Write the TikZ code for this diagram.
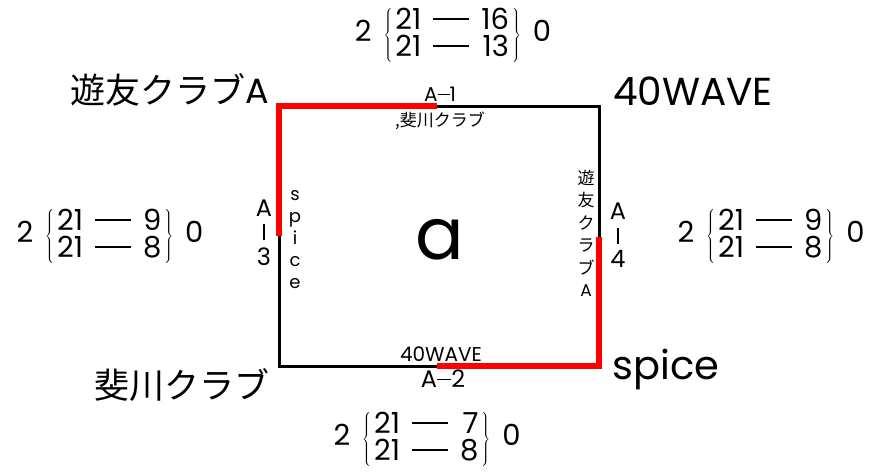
\documentclass[tikz,border=0pt]{standalone}
\usepackage{fontspec}
\setmainfont{Noto Sans CJK JP}
\newfontfamily\latinf{Poppins}
\tikzset{
  lbl/.style={inner sep=0pt, font=\fontsize{#1}{#1}\selectfont},
  llbl/.style={inner sep=0pt, font=\latinf\fontsize{#1}{#1}\selectfont},
  blackline/.style={line width=3pt, black},
  redline/.style={line width=6pt, red},
}
\newcommand{\dashbar}{\rule[9pt]{36pt}{2.4pt}}
\newcommand{\scorebox}[6]{\latinf\fontsize{29}{23}\selectfont #1\hspace{12pt}$\left\{\vcenter{\hbox{\latinf\fontsize{29}{23}\selectfont\renewcommand{\arraystretch}{0.85}\begin{tabular}{@{\hspace{3pt}}l@{\hspace{12pt}}c@{\hspace{12pt}}r@{\hspace{3pt}}}#2&\dashbar&#3\\#4&\dashbar&#5\end{tabular}}}\right\}$\hspace{12pt}#6}
\newcommand{\vstack}[1]{\begin{tabular}{@{}c@{}}#1\end{tabular}}
\begin{document}
\begin{tikzpicture}[x=1pt,y=-1pt]
\useasboundingbox (0,0) rectangle (879,472);
% square corners
\coordinate (tl) at (279,106);
\coordinate (tr) at (599,106);
\coordinate (br) at (599,366);
\coordinate (bl) at (279,366);
\coordinate (tm) at (437,106);
\coordinate (bm) at (437,366);
\coordinate (lm) at (279,236);
\coordinate (rm) at (599,237);
\draw[blackline] (tl) -- (tr) -- (br) -- (bl) -- cycle;
\draw[redline] (lm) -- (tl) -- (tm);
\draw[redline] (rm) -- (br) -- (bm);
% team names
\node[lbl=35] (n1) at (170,90) {遊友クラブ{\latinf A}};
\node[llbl=39] (n2) at (693,91) {40WAVE};
\node[lbl=35] (n3) at (182,385) {斐川クラブ};
\node[llbl=40] (n4) at (666,369) {spice};
\node[llbl=72] (ctr) at (440,240) {a};
% scores
\node[inner sep=0pt] (s1) at (453,35) {\scorebox{2}{21}{16}{21}{13}{0}};
\node[inner sep=0pt] (s2) at (110,236) {\scorebox{2}{21}{9}{21}{8}{0}};
\node[inner sep=0pt] (s3) at (771,236) {\scorebox{2}{21}{9}{21}{8}{0}};
\node[inner sep=0pt] (s4) at (427,439) {\scorebox{2}{21}{7}{21}{8}{0}};
% match labels
\node[llbl=20] (m1) at (440,94) {A\rule[0.32em]{0.6em}{1.2pt}1};
\node[lbl=17] (m1b) at (440,121) {,斐川クラブ};
\node[llbl=20] (m2) at (441,354) {40WAVE};
\node[llbl=24] (m2b) at (443,379) {A\rule[0.32em]{0.6em}{1.4pt}2};
\node[llbl=24] (m3) at (264,236) {\fontsize{24}{24}\selectfont\vstack{A\\\rule{1.4pt}{16pt}\\3}};
\node[llbl=18] (m3b) at (295,240) {\fontsize{18}{22}\selectfont\vstack{s\\p\\i\\c\\e}};
\node[lbl=17] (m4) at (586,236) {\fontsize{17}{22.5}\selectfont\vstack{遊\\友\\ク\\ラ\\ブ\\{\latinf A}}};
\node[llbl=24] (m4b) at (618,239) {\fontsize{24}{24}\selectfont\vstack{A\\\rule{1.4pt}{16pt}\\4}};
\end{tikzpicture}
\end{document}
